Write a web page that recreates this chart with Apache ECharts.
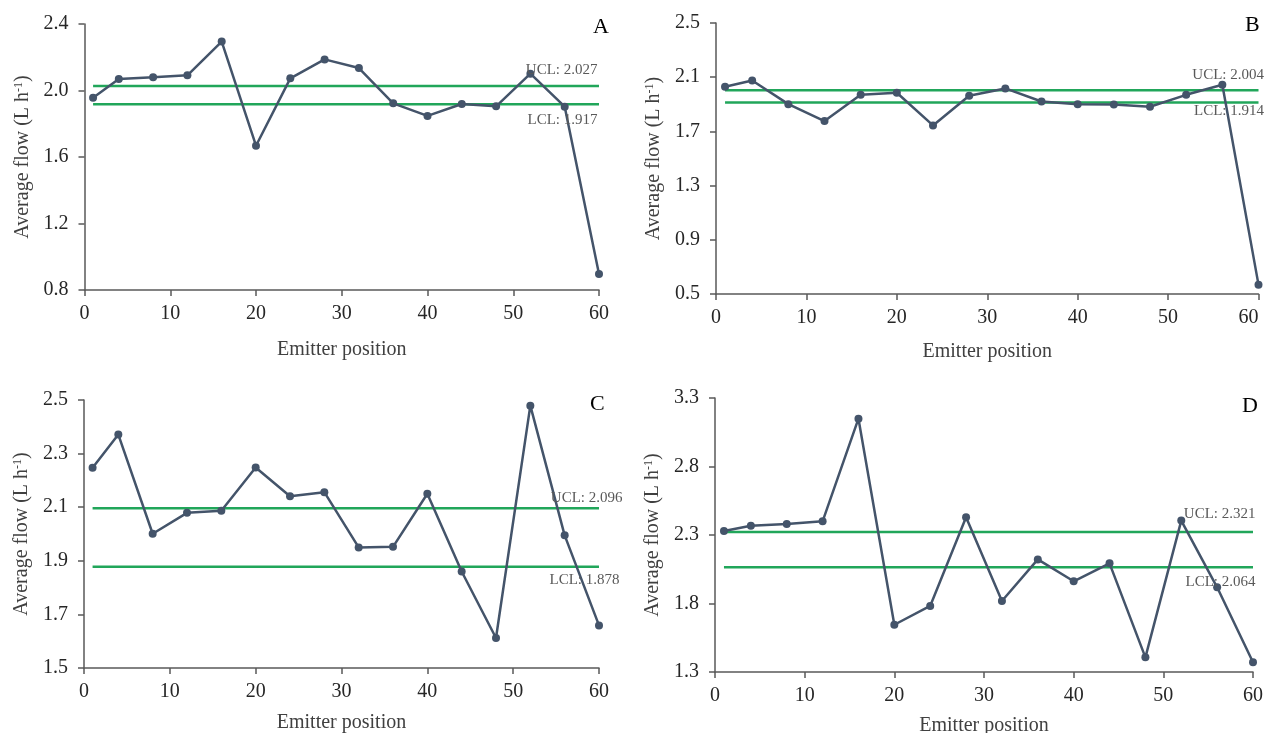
<!DOCTYPE html>
<html>
<head>
<meta charset="utf-8">
<script src="https://cdn.jsdelivr.net/npm/echarts@6/dist/echarts.min.js"></script>
<style>
  html, body { margin: 0; padding: 0; background: #fff; }
  #main { width: 1264px; height: 733px; }
</style>
</head>
<body>
<div id="main"></div>
<script>
// emitter positions along the lateral
var positions = [1, 4, 8, 12, 16, 20, 24, 28, 32, 36, 40, 44, 48, 52, 56, 60]

// average flow (L h-1) per panel
var flowA = [1.957, 2.069, 2.079, 2.091, 2.294, 1.668, 2.073, 2.187, 2.135, 1.923, 1.847, 1.919, 1.905, 2.101, 1.903, 0.896]
var flowB = [2.030, 2.076, 1.901, 1.776, 1.970, 1.985, 1.744, 1.963, 2.017, 1.921, 1.901, 1.899, 1.882, 1.970, 2.044, 0.569]
var flowC = [2.247, 2.371, 2.001, 2.079, 2.087, 2.248, 2.141, 2.156, 1.950, 1.952, 2.150, 1.860, 1.612, 2.479, 1.995, 1.659]
var flowD = [2.329, 2.368, 2.380, 2.400, 3.149, 1.645, 1.782, 2.429, 1.818, 2.122, 1.962, 2.093, 1.407, 2.405, 1.918, 1.371]

// control limits
var panelNames = ['A', 'B', 'C', 'D']
var ucl = [2.027, 2.004, 2.096, 2.321]
var lcl = [1.917, 1.914, 1.878, 2.064]

// y axis ranges
var yMin = [0.8, 0.5, 1.5, 1.3]
var yMax = [2.4, 2.5, 2.5, 3.3]
var yStep = [0.4, 0.4, 0.2, 0.5]

var xTicks = [0, 60, 10] // min, max, interval

var flows = [flowA, flowB, flowC, flowD]

// layout of each panel (pixels)
var layout = [
  { left: 84.5, top: 24, width: 514.5, height: 266, nameGap: 50, letter: [593, 16], uclOff: [-1, -15], lclOff: [-1, 16], alignMax: null },
  { left: 716, top: 23, width: 542.5, height: 271, nameGap: 48, letter: [1245, 14], uclOff: [6, -15], lclOff: [6, 9], alignMax: 'right' },
  { left: 84, top: 400, width: 515, height: 268, nameGap: 45, letter: [590, 393], uclOff: [24, -10], lclOff: [21, 14], alignMax: null },
  { left: 715, top: 398, width: 538, height: 274, nameGap: 44, letter: [1242, 395], uclOff: [3, -18], lclOff: [3, 15], alignMax: null }
]

var font = 'Liberation Serif'
var axisColor = '#595959'
var lineColor = '#44546a'
var limitColor = '#21a65a'

var grids = [], xAxes = [], yAxes = [], series = [], titles = []

function limitLabel(text, off) {
  return {
    show: true,
    formatter: text,
    position: off,
    align: 'right',
    verticalAlign: 'middle',
    fontFamily: font,
    fontSize: 15,
    color: '#595959'
  }
}

for (var i = 0; i < 4; i++) {
  var L = layout[i]
  grids.push({ left: L.left, top: L.top, width: L.width, height: L.height, outerBoundsMode: 'none' })

  xAxes.push({
    gridIndex: i,
    type: 'value',
    min: xTicks[0],
    max: xTicks[1],
    interval: xTicks[2],
    name: 'Emitter position',
    nameLocation: 'middle',
    nameGap: L.nameGap,
    nameTextStyle: { fontFamily: font, fontSize: 20, color: '#404040' },
    axisLine: { lineStyle: { color: axisColor, width: 1.5 } },
    axisTick: { show: true, length: 6, lineStyle: { color: axisColor, width: 1.5 } },
    axisLabel: { fontFamily: font, fontSize: 20, color: '#262626', margin: 14, alignMaxLabel: L.alignMax },
    splitLine: { show: false }
  })

  yAxes.push({
    gridIndex: i,
    type: 'value',
    min: yMin[i],
    max: yMax[i],
    interval: yStep[i],
    name: 'Average flow (L h{sup|-1})',
    nameLocation: 'middle',
    nameGap: 52,
    nameTextStyle: {
      fontFamily: font, fontSize: 20, color: '#404040',
      rich: { sup: { fontFamily: font, fontSize: 12, color: '#404040', verticalAlign: 'top' } }
    },
    axisLine: { show: true, lineStyle: { color: axisColor, width: 1.5 } },
    axisTick: { show: true, length: 6, lineStyle: { color: axisColor, width: 1.5 } },
    axisLabel: {
      fontFamily: font, fontSize: 20, color: '#262626', margin: 16,
      formatter: function (v) { return v.toFixed(1) }
    },
    splitLine: { show: false }
  })

  series.push({
    type: 'line',
    xAxisIndex: i,
    yAxisIndex: i,
    data: positions.map(function (p, k) { return [p, flows[i][k]] }),
    symbol: 'circle',
    symbolSize: 8,
    lineStyle: { color: lineColor, width: 2.5 },
    itemStyle: { color: lineColor },
    z: 3
  })

  var first = positions[0], last = positions[positions.length - 1]
  series.push({
    type: 'line',
    xAxisIndex: i,
    yAxisIndex: i,
    data: [[first, ucl[i]], [last, ucl[i]]],
    showSymbol: false,
    lineStyle: { color: limitColor, width: 2.5 },
    z: 2,
    markPoint: {
      symbol: 'circle',
      symbolSize: 1,
      itemStyle: { color: 'rgba(0,0,0,0)' },
      data: [{ coord: [last, ucl[i]], label: limitLabel('UCL: ' + ucl[i].toFixed(3), L.uclOff) }]
    }
  })
  series.push({
    type: 'line',
    xAxisIndex: i,
    yAxisIndex: i,
    data: [[first, lcl[i]], [last, lcl[i]]],
    showSymbol: false,
    lineStyle: { color: limitColor, width: 2.5 },
    z: 2,
    markPoint: {
      symbol: 'circle',
      symbolSize: 1,
      itemStyle: { color: 'rgba(0,0,0,0)' },
      data: [{ coord: [last, lcl[i]], label: limitLabel('LCL: ' + lcl[i].toFixed(3), L.lclOff) }]
    }
  })

  titles.push({
    text: panelNames[i],
    left: L.letter[0],
    top: L.letter[1],
    padding: 0,
    textStyle: { fontFamily: font, fontSize: 22, fontWeight: 'normal', color: '#000' }
  })
}

var myChart = echarts.init(document.getElementById('main'))
myChart.setOption({
  animation: false,
  backgroundColor: '#fff',
  title: titles,
  grid: grids,
  xAxis: xAxes,
  yAxis: yAxes,
  series: series
})
</script>
</body>
</html>
